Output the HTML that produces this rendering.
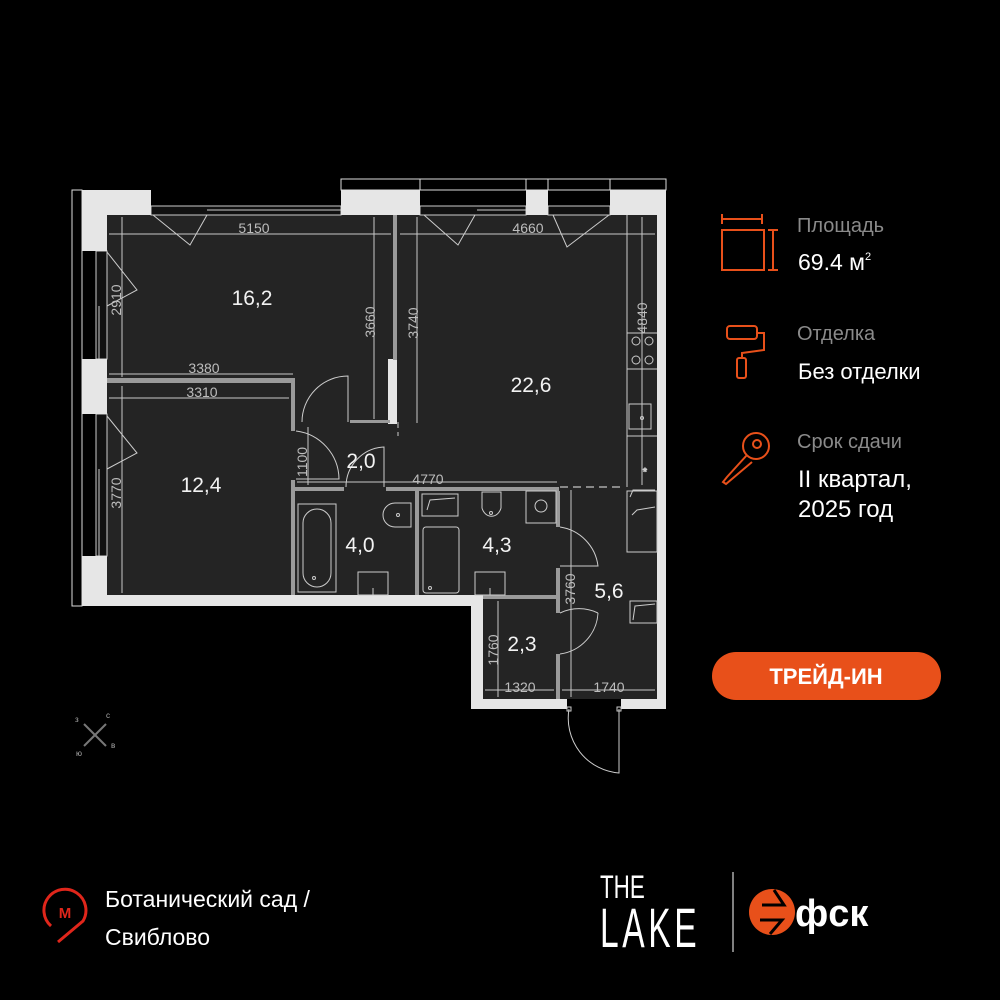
<!DOCTYPE html>
<html><head><meta charset="utf-8"><style>
html,body{margin:0;padding:0;background:#000;}
body{width:1000px;height:1000px;overflow:hidden;position:relative;font-family:"Liberation Sans","DejaVu Sans",sans-serif;}
</style></head><body>
<svg width="1000" height="1000" viewBox="0 0 1000 1000" xmlns="http://www.w3.org/2000/svg" style="position:absolute;left:0;top:0">
<rect width="1000" height="1000" fill="#000"/>
<polygon points="107,215 657,215 657,699 483,699 483,595 107,595" fill="#242424"/>
<g fill="none" stroke="#ddd" stroke-width="1">
<rect x="341" y="179" width="325" height="11"/>
<line x1="420" y1="179" x2="420" y2="190"/><line x1="526" y1="179" x2="526" y2="190"/><line x1="548" y1="179" x2="548" y2="190"/><line x1="610" y1="179" x2="610" y2="190"/>
<rect x="72" y="190" width="10" height="416"/>
</g>
<g stroke="#ccc" stroke-width="1" fill="none">
<rect x="151" y="206" width="190" height="9" fill="#111"/>
<line x1="207" y1="210" x2="341" y2="210"/>
<rect x="420" y="206" width="106" height="9" fill="#111"/>
<line x1="477" y1="210" x2="526" y2="210"/>
<rect x="548" y="206" width="62" height="9" fill="#111"/>
<rect x="96" y="251" width="11" height="108" fill="#111"/>
<line x1="99" y1="306" x2="99" y2="359"/>
<rect x="96" y="414" width="11" height="142" fill="#111"/>
<line x1="99" y1="469" x2="99" y2="556"/>
<path d="M153,215 L190,245 L207,215"/>
<path d="M424,215 L458,245 L475,215"/>
<path d="M553,215 L567,247 L609,215"/>
<path d="M107,252 L137,290 L107,306"/>
<path d="M107,416 L137,453 L107,469"/>
</g>
<g fill="#e6e6e6">
<rect x="82" y="190" width="69" height="25"/>
<rect x="82" y="190" width="25" height="61"/>
<rect x="341" y="190" width="79" height="25"/>
<rect x="526" y="190" width="22" height="25"/>
<rect x="610" y="190" width="56" height="25"/>
<rect x="657" y="215" width="9" height="494"/>
<rect x="82" y="359" width="25" height="55"/>
<rect x="82" y="556" width="25" height="50"/>
<rect x="82" y="595" width="401" height="11"/>
<rect x="471" y="595" width="12" height="114"/>
<rect x="471" y="699" width="96" height="10"/>
<rect x="621" y="699" width="45" height="10"/>
<rect x="388" y="359" width="9" height="65"/>
</g>
<g fill="#9a9a9a">
<rect x="393" y="215" width="4" height="145"/>
<rect x="350" y="420" width="40" height="3"/>
<rect x="107" y="378" width="188" height="5"/>
<rect x="291" y="378" width="4" height="53"/>
<rect x="291" y="480" width="4" height="115"/>
<rect x="295" y="487" width="49" height="4"/>
<rect x="386" y="487" width="173" height="4"/>
<rect x="415" y="491" width="4" height="104"/>
<rect x="556" y="491" width="4" height="36"/>
<rect x="556" y="568" width="4" height="45"/>
<rect x="556" y="654" width="4" height="45"/>
<rect x="483" y="595" width="75" height="4"/>
</g>
<g fill="none" stroke="#ccc" stroke-width="1">
<path d="M302,422 A46,46 0 0 1 348,376 L348,422"/>
<path d="M296,431 A49,49 0 0 1 339,479 L296,479"/>
<path d="M346,487 A40,40 0 0 1 384,447 L384,487"/>
<path d="M560,527 A45,45 0 0 1 598,566 L560,566"/>
<path d="M560,613 A44,44 0 0 1 598,613"/>
<path d="M598,613 A44,44 0 0 1 560,654"/>
<path d="M569,709 A55,55 0 0 0 619,773 L619,709"/>
<rect x="567" y="707" width="4" height="4"/><rect x="617" y="707" width="4" height="4"/>
<line x1="398" y1="422" x2="398" y2="436" stroke-dasharray="6,4"/>
<line x1="560" y1="487" x2="623" y2="487" stroke="#888" stroke-width="2" stroke-dasharray="8,5"/>
<line x1="627" y1="215" x2="627" y2="487"/>
<line x1="627" y1="333" x2="657" y2="333"/><line x1="627" y1="369" x2="657" y2="369"/>
<line x1="627" y1="436" x2="657" y2="436"/>
<circle cx="636" cy="341" r="4"/><circle cx="649" cy="341" r="4"/><circle cx="636" cy="360" r="4"/><circle cx="649" cy="360" r="4"/>
<rect x="629" y="404" width="22" height="25"/><circle cx="642" cy="418" r="1.5"/>
<text x="645" y="475" fill="#ccc" font-size="10" text-anchor="middle">*</text>
<rect x="627" y="491" width="30" height="61"/>
<path d="M630,497 L633,490 L655,490"/><path d="M632,515 L637,510 L655,507"/>
<rect x="630" y="601" width="27" height="22"/><path d="M633,620 L635,606 L655,604"/>
<rect x="422" y="494" width="36" height="22"/><path d="M427,510 L430,500 L455,498"/>
<rect x="298" y="504" width="38" height="88"/>
<rect x="303" y="509" width="28" height="78" rx="14"/>
<circle cx="314" cy="578" r="1.5"/>
<path d="M411,503 L395,503 A12,12 0 0 0 395,527 L411,527 Z"/><circle cx="398" cy="515" r="1.5"/>
<rect x="358" y="572" width="30" height="23"/><line x1="373" y1="588" x2="373" y2="595"/>
<rect x="423" y="527" width="36" height="66" rx="3"/><circle cx="430" cy="588" r="1.5"/>
<path d="M482,492 L501,492 L501,508 A10,12 0 0 1 482,508 Z"/><circle cx="491" cy="513" r="1.5"/>
<rect x="526" y="491" width="30" height="32"/><circle cx="541" cy="506" r="6"/>
<rect x="475" y="572" width="30" height="23"/><line x1="490" y1="588" x2="490" y2="595"/>
</g>
<g stroke="#c8c8c8" stroke-width="1" fill="none">
<line x1="109" y1="234" x2="391" y2="234"/>
<line x1="400" y1="234" x2="655" y2="234"/>
<line x1="122" y1="217" x2="122" y2="377"/>
<line x1="109" y1="374" x2="293" y2="374"/>
<line x1="109" y1="398" x2="289" y2="398"/>
<line x1="122" y1="386" x2="122" y2="593"/>
<line x1="374" y1="217" x2="374" y2="419"/>
<line x1="417" y1="217" x2="417" y2="423"/>
<line x1="642" y1="217" x2="642" y2="485"/>
<line x1="308" y1="427" x2="308" y2="485"/>
<line x1="297" y1="482" x2="557" y2="482"/>
<line x1="571" y1="490" x2="571" y2="697"/>
<line x1="498" y1="601" x2="498" y2="697"/>
<line x1="485" y1="690" x2="554" y2="690"/>
<line x1="562" y1="690" x2="655" y2="690"/>
</g>
<g fill="#bdbdbd" font-size="14">
<text x="254" y="233" text-anchor="middle">5150</text>
<text x="528" y="233" text-anchor="middle">4660</text>
<text x="204" y="373" text-anchor="middle">3380</text>
<text x="202" y="397" text-anchor="middle">3310</text>
<text x="428" y="484" text-anchor="middle">4770</text>
<text x="520" y="692" text-anchor="middle">1320</text>
<text x="609" y="692" text-anchor="middle">1740</text>
<text transform="translate(121,300) rotate(-90)" text-anchor="middle">2910</text>
<text transform="translate(121,493) rotate(-90)" text-anchor="middle">3770</text>
<text transform="translate(375,322) rotate(-90)" text-anchor="middle">3660</text>
<text transform="translate(418,323) rotate(-90)" text-anchor="middle">3740</text>
<text transform="translate(647,318) rotate(-90)" text-anchor="middle">4840</text>
<text transform="translate(307,462) rotate(-90)" text-anchor="middle">1100</text>
<text transform="translate(575,589) rotate(-90)" text-anchor="middle">3760</text>
<text transform="translate(498,650) rotate(-90)" text-anchor="middle">1760</text>
</g>
<g fill="#f2f2f2" font-size="21" text-anchor="middle">
<text x="252" y="305">16,2</text>
<text x="531" y="392">22,6</text>
<text x="201" y="492">12,4</text>
<text x="361" y="468">2,0</text>
<text x="360" y="552">4,0</text>
<text x="497" y="552">4,3</text>
<text x="609" y="598">5,6</text>
<text x="522" y="651">2,3</text>
</g>
<g stroke="#777" stroke-width="2"><line x1="84" y1="724" x2="106" y2="746"/><line x1="106" y1="724" x2="84" y2="746"/></g>
<g fill="#aaa" font-size="8"><text x="75" y="722">з</text><text x="106" y="718">с</text><text x="76" y="756">ю</text><text x="111" y="748">в</text></g>
<g stroke="#e8501a" stroke-width="2" fill="none">
<rect x="722" y="230" width="42" height="40"/>
<line x1="722" y1="219" x2="762" y2="219"/><line x1="722" y1="214" x2="722" y2="224"/><line x1="762" y1="214" x2="762" y2="224"/>
<line x1="773" y1="230" x2="773" y2="270"/><line x1="768" y1="230" x2="778" y2="230"/><line x1="768" y1="270" x2="778" y2="270"/>
<rect x="727" y="326" width="30" height="13" rx="3"/>
<path d="M757,333 L764,333 L764,350 L742,353 L742,358"/>
<rect x="737" y="358" width="9" height="20" rx="2"/>
<circle cx="756" cy="446" r="13"/><circle cx="757" cy="444" r="4"/>
<path d="M747,455 L727,477 L723,482 L726,484 L752,462"/>
</g>
<g font-size="20">
<text x="797" y="232" fill="#8a8a8a">Площадь</text>
<text x="798" y="270" fill="#fff" font-size="23">69.4 м<tspan font-size="11" dy="-10">2</tspan></text>
<text x="797" y="340" fill="#8a8a8a">Отделка</text>
<text x="798" y="379" fill="#fff" font-size="22">Без отделки</text>
<text x="797" y="448" fill="#8a8a8a">Срок сдачи</text>
<text x="798" y="487" fill="#fff" font-size="24">II квартал,</text>
<text x="798" y="517" fill="#fff" font-size="24">2025 год</text>
</g>
<rect x="712" y="652" width="229" height="48" rx="24" fill="#e8501a"/>
<text x="826" y="684" fill="#fff" font-size="22" font-weight="bold" text-anchor="middle">ТРЕЙД-ИН</text>
<!-- metro -->
<path d="M51,926 A21,21 0 1 1 83,921 L58,942" fill="none" stroke="#e0261b" stroke-width="3"/>
<text x="65" y="918" fill="#e0261b" font-size="15" font-weight="bold" text-anchor="middle">М</text>
<text x="105" y="907" fill="#fff" font-size="23">Ботанический сад /</text>
<text x="105" y="945" fill="#fff" font-size="23">Свиблово</text>
<!-- THE LAKE -->
<text fill="#fff" font-size="32" transform="translate(600,898) scale(0.7,1)">THE</text>
<text fill="#fff" font-size="56" transform="translate(600,947) scale(0.6,1)" letter-spacing="6">LAKE</text>
<line x1="733" y1="872" x2="733" y2="952" stroke="#fff" stroke-width="1"/>
<circle cx="772" cy="912" r="23" fill="#e8501a"/>
<path d="M762,905 L784,905 L774,890 M760,920 L782,920 L770,934" stroke="#000" stroke-width="3" fill="none"/>
<text x="795" y="926" fill="#fff" font-size="38" font-weight="bold">фск</text>
</svg>
</body></html>
